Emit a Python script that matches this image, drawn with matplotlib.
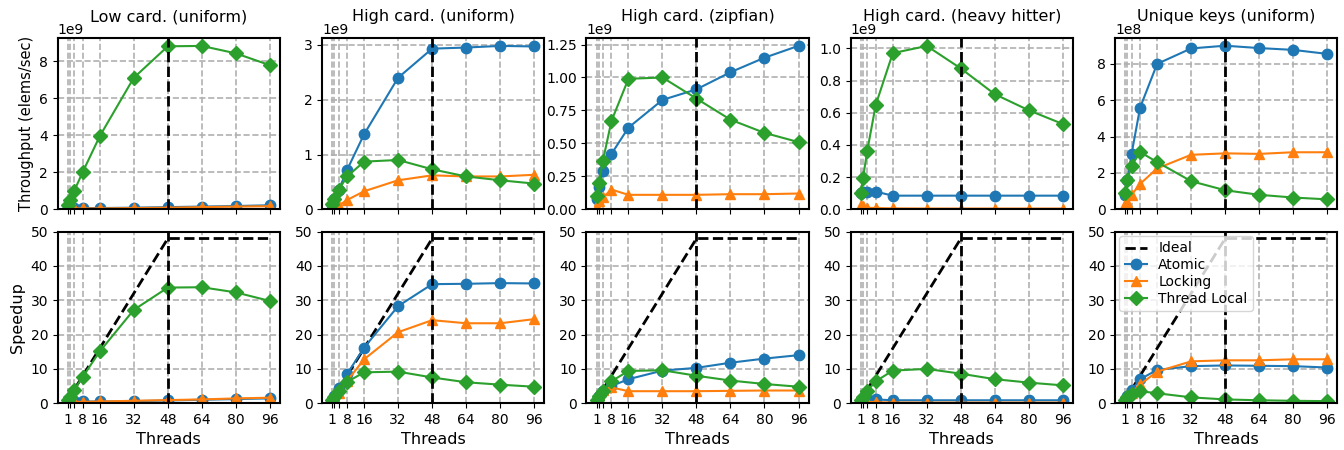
import matplotlib
matplotlib.use("Agg")
import matplotlib.pyplot as plt

threads = [1, 2, 4, 8, 16, 32, 48, 64, 80, 96]
tick_labels = ['1', '', '', '8', '16', '32', '48', '64', '80', '96']
ideal = [1, 2, 4, 8, 16, 32, 48, 48, 48, 48]

titles = ['Low card. (uniform)', 'High card. (uniform)', 'High card. (zipfian)',
          'High card. (heavy hitter)', 'Unique keys (uniform)']
scales = [1e9, 1e9, 1e9, 1e9, 1e8]

# throughput (in units of scale) per panel
atomic_tp = [
    [0.15, 0.10, 0.08, 0.07, 0.07, 0.09, 0.12, 0.15, 0.18, 0.22],
    [0.085, 0.18, 0.35, 0.72, 1.37, 2.40, 2.93, 2.95, 2.98, 2.97],
    [0.08, 0.17, 0.29, 0.42, 0.62, 0.83, 0.91, 1.04, 1.15, 1.24],
    [0.10, 0.11, 0.11, 0.11, 0.085, 0.085, 0.085, 0.085, 0.085, 0.085],
    [0.8, 1.6, 3.07, 5.6, 8.0, 8.85, 9.0, 8.87, 8.77, 8.55],
]
locking_tp = [
    [0.12, 0.07, 0.05, 0.05, 0.05, 0.07, 0.09, 0.12, 0.15, 0.17],
    [0.026, 0.05, 0.07, 0.17, 0.33, 0.53, 0.62, 0.60, 0.60, 0.63],
    [0.02, 0.06, 0.09, 0.15, 0.11, 0.11, 0.11, 0.115, 0.115, 0.12],
    [0.03, 0.02, 0.01, 0.008, 0.006, 0.005, 0.005, 0.005, 0.005, 0.005],
    [0.3, 0.4, 0.8, 1.4, 2.25, 3.0, 3.08, 3.05, 3.14, 3.14],
]
local_tp = [
    [0.26, 0.50, 1.0, 2.02, 3.95, 7.1, 8.8, 8.82, 8.42, 7.78],
    [0.10, 0.18, 0.35, 0.60, 0.87, 0.90, 0.73, 0.60, 0.53, 0.47],
    [0.10, 0.20, 0.37, 0.67, 0.99, 1.00, 0.84, 0.68, 0.58, 0.51],
    [0.10, 0.195, 0.365, 0.65, 0.97, 1.015, 0.875, 0.715, 0.615, 0.53],
    [0.9, 1.6, 2.4, 3.15, 2.6, 1.55, 1.05, 0.8, 0.65, 0.55],
]

# speedup per panel
atomic_sp = [
    [1.0, 0.7, 0.5, 0.5, 0.5, 0.6, 0.8, 1.0, 1.2, 1.4],
    [1.0, 2.1, 4.3, 8.5, 16.2, 28.3, 34.7, 34.8, 35.0, 34.9],
    [1.0, 2.0, 3.5, 5.0, 7.0, 9.5, 10.3, 11.8, 13.0, 14.0],
    [1.0, 1.1, 1.1, 1.1, 0.85, 0.85, 0.85, 0.85, 0.85, 0.85],
    [1.0, 2.0, 3.8, 7.0, 9.7, 10.8, 11.0, 10.9, 10.8, 10.4],
]
locking_sp = [
    [1.0, 0.6, 0.4, 0.4, 0.5, 0.7, 0.9, 1.1, 1.4, 1.6],
    [1.0, 1.8, 3.0, 6.5, 12.8, 20.7, 24.2, 23.3, 23.3, 24.5],
    [1.0, 2.5, 3.8, 4.6, 3.5, 3.5, 3.5, 3.6, 3.7, 3.7],
    [1.0, 0.7, 0.4, 0.3, 0.2, 0.17, 0.17, 0.17, 0.17, 0.17],
    [1.0, 1.8, 3.0, 5.5, 9.2, 12.2, 12.5, 12.5, 12.8, 12.8],
]
local_sp = [
    [1.0, 1.9, 3.9, 7.7, 15.1, 27.2, 33.7, 33.8, 32.3, 29.8],
    [1.0, 1.9, 3.6, 6.2, 9.0, 9.2, 7.5, 6.1, 5.4, 4.8],
    [1.0, 2.0, 3.7, 6.4, 9.4, 9.6, 8.0, 6.6, 5.6, 4.8],
    [1.0, 1.95, 3.6, 6.4, 9.5, 10.0, 8.6, 7.0, 6.0, 5.2],
    [1.0, 1.8, 2.8, 3.5, 2.9, 1.7, 1.1, 0.85, 0.7, 0.6],
]

fig, axes = plt.subplots(2, 5, figsize=(13.44, 4.5), dpi=100)
fig.subplots_adjust(left=0.043, right=0.995, top=0.916, bottom=0.104,
                    wspace=0.19, hspace=0.13)

def style_axis(ax):
    ax.set_xticks(threads)
    ax.grid(True, linestyle='--', linewidth=1.2, color='#b0b0b0')
    ax.set_axisbelow(True)
    for s in ax.spines.values():
        s.set_linewidth(1.5)

for i in range(5):
    top = axes[0, i]
    sc = scales[i]
    top.plot(threads, [v * sc for v in atomic_tp[i]], marker='o', ms=7.5, color='C0', label='Atomic')
    top.plot(threads, [v * sc for v in locking_tp[i]], marker='^', ms=7.5, color='C1', label='Locking')
    top.plot(threads, [v * sc for v in local_tp[i]], marker='D', ms=7.5, color='C2', label='Thread Local')
    top.axvline(48, color='black', linestyle='--', linewidth=2)
    top.set_ylim(bottom=0)
    style_axis(top)
    top.set_xticklabels([])
    top.set_title(titles[i], fontsize=11.5, y=1.0, pad=12)

    bot = axes[1, i]
    bot.plot(threads, ideal, color='black', linestyle='--', linewidth=2, label='Ideal')
    bot.plot(threads, atomic_sp[i], marker='o', ms=7.5, color='C0', label='Atomic')
    bot.plot(threads, locking_sp[i], marker='^', ms=7.5, color='C1', label='Locking')
    bot.plot(threads, local_sp[i], marker='D', ms=7.5, color='C2', label='Thread Local')
    bot.axvline(48, color='black', linestyle='--', linewidth=2)
    bot.set_ylim(0, 50)
    style_axis(bot)
    bot.set_xticklabels(tick_labels)
    bot.set_xlabel('Threads', fontsize=11.5)

axes[0, 0].set_ylabel('Throughput (elems/sec)', fontsize=10.5)
axes[1, 0].set_ylabel('Speedup', fontsize=11.5)
axes[1, 4].legend(loc='upper left', fontsize=10, handlelength=1.6,
                  borderaxespad=0.3, labelspacing=0.2)

fig.savefig('out.png')
